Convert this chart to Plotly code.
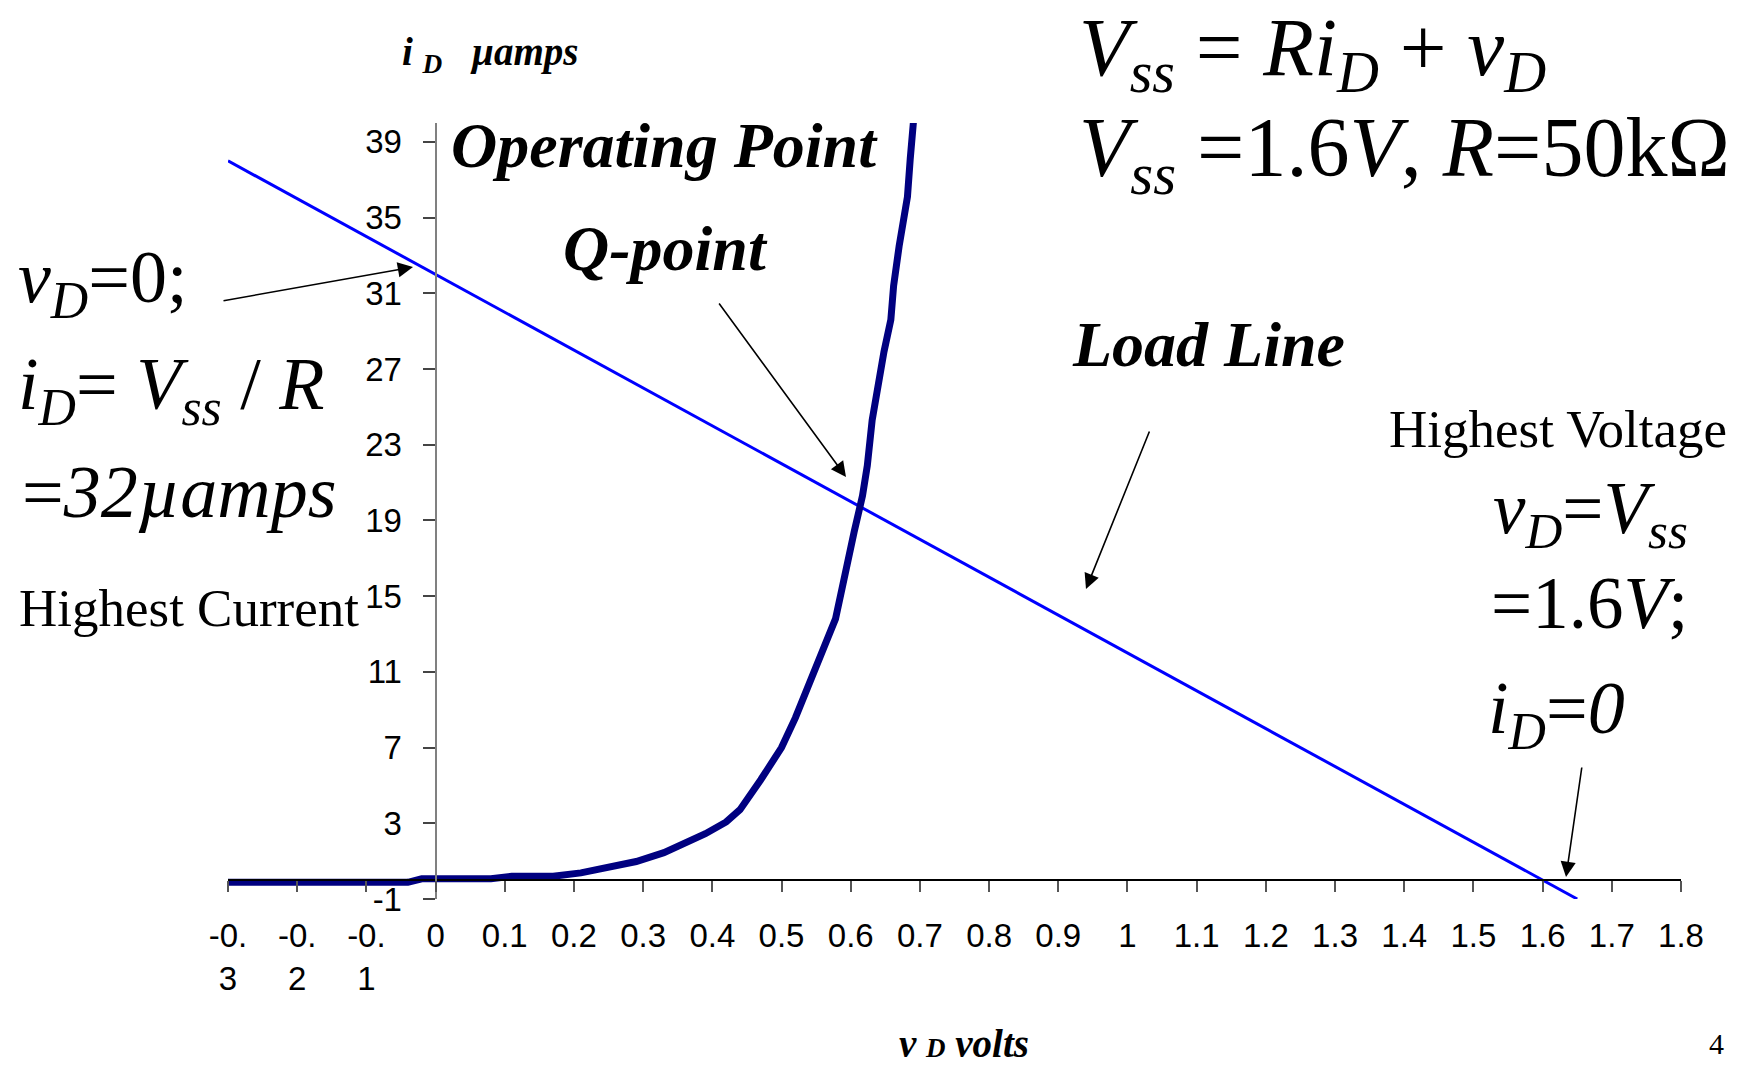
import plotly.graph_objects as go

# Diode characteristic (measured), v_D in volts, i_D in microamps
diode_v = [-0.30, -0.04, -0.02, 0.08, 0.11, 0.17, 0.21, 0.25, 0.29, 0.33, 0.35,
           0.39, 0.42, 0.44, 0.47, 0.50, 0.52, 0.54, 0.552, 0.566, 0.578, 0.588,
           0.595, 0.605, 0.617, 0.624, 0.631, 0.638, 0.648, 0.658, 0.662, 0.670,
           0.677, 0.682, 0.686, 0.692, 0.700]
diode_i = [-0.12, -0.12, 0.07, 0.07, 0.20, 0.20, 0.38, 0.70, 0.98, 1.45, 1.78,
           2.45, 3.07, 3.72, 5.30, 7.00, 8.57, 10.4, 11.5, 12.7, 13.8, 15.5,
           16.8, 18.4, 20.3, 21.9, 24.3, 25.9, 27.9, 29.6, 31.4, 33.5,
           34.9, 36.1, 38.1, 40.0, 44.0]

# Load line: Vss = R*iD + vD with Vss = 1.6 V, R = 50 kOhm
load_v = [-0.30, -0.25, -0.20, -0.15, -0.10, -0.05, 0.00, 0.05, 0.10, 0.15,
          0.20, 0.25, 0.30, 0.35, 0.40, 0.45, 0.50, 0.55, 0.60, 0.65,
          0.70, 0.75, 0.80, 0.85, 0.90, 0.95, 1.00, 1.05, 1.10, 1.15,
          1.20, 1.25, 1.30, 1.35, 1.40, 1.45, 1.50, 1.55, 1.60, 1.65]
load_i = [38, 37, 36, 35, 34, 33, 32, 31, 30, 29,
          28, 27, 26, 25, 24, 23, 22, 21, 20, 19,
          18, 17, 16, 15, 14, 13, 12, 11, 10, 9,
          8, 7, 6, 5, 4, 3, 2, 1, 0, -1]

x_ticks = [-0.3, -0.2, -0.1, 0, 0.1, 0.2, 0.3, 0.4, 0.5, 0.6, 0.7, 0.8, 0.9,
           1.0, 1.1, 1.2, 1.3, 1.4, 1.5, 1.6, 1.7, 1.8]
x_tick_text = ["-0.<br>3", "-0.<br>2", "-0.<br>1", "0", "0.1", "0.2", "0.3",
               "0.4", "0.5", "0.6", "0.7", "0.8", "0.9", "1", "1.1", "1.2",
               "1.3", "1.4", "1.5", "1.6", "1.7", "1.8"]
y_ticks = [-1, 3, 7, 11, 15, 19, 23, 27, 31, 35, 39]
y_tick_text = ["-1", "3", "7", "11", "15", "19", "23", "27", "31", "35", "39"]

W, H = 1743, 1067
ML, MR, MT, MB = 228, 62, 123, 168
PW, PH = W - ML - MR, H - MT - MB
X_MIN, X_MAX, Y_MIN, Y_MAX = -0.3, 1.8, -1, 40

SERIF = "Liberation Serif, Times New Roman, serif"
SANS = "Liberation Sans, Arial, sans-serif"
NB = "\u00a0"


def paper(px, py):
    return (px - ML) / PW, (H - MB - py) / PH


fig = go.Figure()
fig.add_trace(go.Scatter(x=load_v, y=load_i, mode="lines",
                         line=dict(color="#0000FF", width=3), hoverinfo="skip"))
fig.add_trace(go.Scatter(x=diode_v, y=diode_i, mode="lines",
                         line=dict(color="#000080", width=7), hoverinfo="skip"))

annotations = []


def label(text, px, py, size, anchor="left", vanchor="middle", pad=1):
    x, y = paper(px, py)
    annotations.append(dict(text=text, x=x, y=y, xref="paper", yref="paper",
                            xanchor=anchor, yanchor=vanchor, showarrow=False,
                            align="left", borderpad=pad,
                            font=dict(family=SERIF, size=size, color="black")))


def arrow(tail, tip):
    x, y = paper(*tip)
    annotations.append(dict(text="", x=x, y=y, xref="paper", yref="paper",
                            ax=tail[0] - tip[0], ay=tail[1] - tip[1],
                            showarrow=True, arrowhead=2, arrowsize=1.9,
                            arrowwidth=1.6, arrowcolor="black"))


# axis titles and chart callouts
label(f"<b><i>i{NB}<sub>D</sub>{NB}{NB}{NB}µamps</i></b>", 400, 54, 39)
label(f"<b><i>v{NB}<span style='font-size:27px'>D</span>{NB}volts</i></b>",
      898, 1066, 39, vanchor="bottom", pad=0)
label("<b><i>Operating Point</i></b>", 449, 145, 64)
label("<b><i>Q-point</i></b>", 561, 248, 64)
label("<b><i>Load Line</i></b>", 1070, 344, 64)

# circuit equations (two lines, one block)
eq_line1 = "<i>V<sub>ss</sub></i> = <i>Ri<sub>D</sub></i> + <i>v<sub>D</sub></i>"
eq_line2 = "<i>V<sub>ss</sub></i> =1.6<i>V</i>, <i>R</i>=50kΩ"
label(f"<span style='font-size:83px'>{eq_line1}</span><br>"
      f"<span style='font-size:84px'>{eq_line2}</span>",
      1078, 0, 78, vanchor="top", pad=0)

# highest-current end of the load line
label("<i>v<sub>D</sub></i>=0;", 16, 282, 74)
label("<i>i<sub>D</sub></i>= <i>V<sub>ss</sub></i> / <i>R</i>", 16, 389, 74)
label("=<i>32µamps</i>", 20, 492, 74)
label("Highest Current", 17, 608, 53)

# highest-voltage end of the load line
label("Highest Voltage", 1387, 429, 53)
label("<i>v<sub>D</sub></i>=<i>V<sub>ss</sub></i>", 1491, 513, 73)
label("=1.6<i>V</i>;", 1489, 603, 73)
label("<i>i<sub>D</sub></i>=<i>0</i>", 1486, 713, 74)

label("4", 1716, 1043, 30, anchor="center")

arrow((222, 301), (413, 267))
arrow((718, 302), (846, 477))
arrow((1150, 430), (1086, 589))
arrow((1582, 766), (1566, 877))

fig.update_layout(
    width=W, height=H,
    margin=dict(l=ML, r=MR, t=MT, b=MB, pad=0),
    paper_bgcolor="white", plot_bgcolor="white",
    showlegend=False,
    annotations=annotations,
    xaxis=dict(range=[X_MIN, X_MAX], tickmode="array", tickvals=x_ticks,
               ticktext=x_tick_text, showgrid=False, zeroline=False,
               showline=True, linecolor="black", linewidth=1.5,
               ticks="outside", ticklen=11, tickwidth=1.5, tickcolor="#555555",
               ticklabelstandoff=16,
               tickfont=dict(family=SANS, size=33, color="black"),
               anchor="free", position=(0 - Y_MIN) / (Y_MAX - Y_MIN)),
    yaxis=dict(range=[Y_MIN, Y_MAX], tickmode="array", tickvals=y_ticks,
               ticktext=y_tick_text, showgrid=False, zeroline=False,
               showline=True, linecolor="#808080", linewidth=2,
               ticks="outside", ticklen=12, tickwidth=1.5, tickcolor="#444444",
               ticklabelstandoff=14,
               tickfont=dict(family=SANS, size=33, color="black"),
               anchor="free", position=(0 - X_MIN) / (X_MAX - X_MIN)),
)

fig.write_html("out.html")
